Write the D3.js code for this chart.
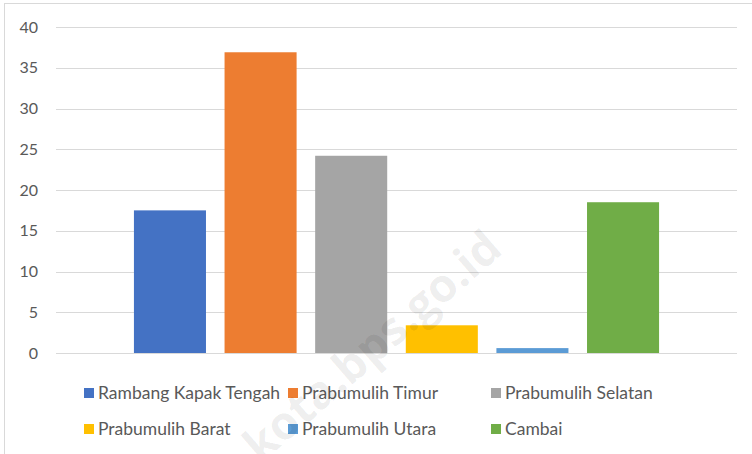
<!DOCTYPE html>
<html>
<head>
<meta charset="utf-8">
<script src="https://cdn.jsdelivr.net/npm/d3@7"></script>
<style>
  body { margin: 0; background: #fff; }
  svg { display: block; font-family: Lato, "Open Sans", sans-serif; }
</style>
</head>
<body>
<svg id="canvas" width="752" height="454"></svg>
<script>
let series = ["Rambang Kapak Tengah", "Prabumulih Timur", "Prabumulih Selatan",
  "Prabumulih Barat", "Prabumulih Utara", "Cambai"];
let values = [17.5, 36.9, 24.2, 3.4, 0.6, 18.5];
let colors = ["#4472c4", "#ed7d31", "#a5a5a5", "#ffc000", "#5b9bd5", "#70ad47"];
let yTicks = [0, 5, 10, 15, 20, 25, 30, 35, 40];

let canvas = d3.select("#canvas");

// chart area border
canvas.append("rect")
  .attr("x", 4.5).attr("y", 3.5)
  .attr("width", 760).attr("height", 470)
  .attr("fill", "none").attr("stroke", "#d9d9d9");

let plotLeft = 56, plotRight = 737, plotTop = 27, plotBottom = 353;

let y = d3.scaleLinear().domain([0, 40]).range([plotBottom, plotTop]);
let x = d3.scaleBand().domain(series).range([plotLeft, plotRight])
  .paddingInner(0.205).paddingOuter(0.86);

// gridlines
canvas.append("g")
  .selectAll("line")
  .data(yTicks)
  .enter()
  .append("line")
  .attr("x1", plotLeft).attr("x2", plotRight)
  .attr("y1", (d) => Math.round(y(d)) + 0.5)
  .attr("y2", (d) => Math.round(y(d)) + 0.5)
  .attr("stroke", "#d9d9d9")
  .attr("stroke-width", 1);

// y axis labels
let yAxis = d3.axisLeft(y).tickValues(yTicks).tickSize(0).tickPadding(0);
let yg = canvas.append("g")
  .attr("transform", "translate(" + 38 + ",0)")
  .call(yAxis);
yg.select(".domain").remove();
yg.selectAll("text")
  .attr("fill", "#595959")
  .style("font-size", "16px")
  .style("font-family", "Lato, 'Open Sans', sans-serif");

// bars
canvas.append("g")
  .selectAll("rect")
  .data(series)
  .enter()
  .append("rect")
  .attr("x", (d) => x(d))
  .attr("width", x.bandwidth())
  .attr("y", (d, i) => y(values[i]))
  .attr("height", (d, i) => plotBottom - y(values[i]))
  .attr("fill", (d, i) => colors[i]);

// legend
let legendCols = [84, 288, 491];
let legendRows = [393, 429];
let legend = canvas.append("g")
  .selectAll("g")
  .data(series)
  .enter()
  .append("g")
  .attr("transform", (d, i) =>
    "translate(" + legendCols[i % 3] + "," + legendRows[Math.floor(i / 3)] + ")");

legend.append("rect")
  .attr("x", 0).attr("y", -5)
  .attr("width", 10).attr("height", 10)
  .attr("fill", (d, i) => colors[i]);

legend.append("text")
  .attr("x", 14)
  .attr("y", 0)
  .attr("dy", "0.35em")
  .attr("fill", "#595959")
  .style("font-size", "17.5px")
  .text((d) => d);

// watermark
canvas.append("text")
  .attr("transform", "translate(372,346) rotate(-41)")
  .attr("text-anchor", "middle")
  .attr("dy", "0.35em")
  .attr("fill", "#000")
  .attr("fill-opacity", 0.07)
  .style("font-size", "46px")
  .style("font-weight", "bold")
  .style("font-family", "'Open Sans', Lato, sans-serif")
  .text("kota.bps.go.id");
</script>
</body>
</html>
